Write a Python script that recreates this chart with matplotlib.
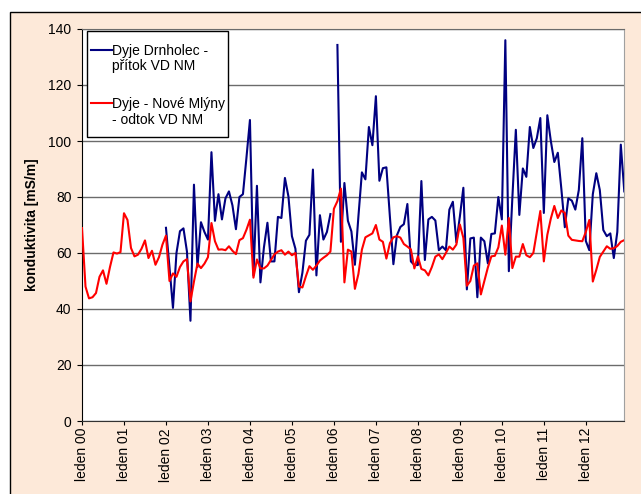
import numpy as np
import matplotlib
matplotlib.use("Agg")
import matplotlib.pyplot as plt
from matplotlib.patches import Rectangle
from matplotlib.lines import Line2D

plt.rcParams['font.family'] = ['Liberation Sans', 'DejaVu Sans']

# Monthly conductivity, January 2000 - December 2012 (index 0 = leden 00)
months = np.arange(156)

nove_mlyny = [
    68.9, 48.0, 43.8, 44.2, 45.7, 51.5, 53.8, 49.0, 55.0, 60.2, 59.8, 60.3,
    74.2, 71.8, 61.8, 58.8, 59.4, 61.5, 64.5, 58.2, 60.8, 55.8, 58.5, 63.0,
    66.2, 50.0, 52.7, 51.5, 55.0, 57.0, 57.8, 42.7, 49.8, 56.2, 54.6, 56.2,
    58.5, 70.7, 64.2, 61.2, 61.3, 61.0, 62.4, 60.8, 59.6, 64.6, 65.3, 68.3,
    71.9, 51.2, 57.7, 54.5, 54.5, 55.5, 57.5, 59.5, 60.5, 61.0, 59.4, 60.5,
    59.2, 60.0, 48.0, 47.7, 51.7, 55.3, 54.0, 55.5, 57.3, 58.3, 59.2, 60.5,
    75.8, 78.5, 83.0, 49.5, 61.2, 60.5, 47.2, 52.5, 61.2, 65.6, 66.3, 67.0,
    70.0, 64.8, 64.0, 58.0, 63.5, 65.6, 66.0, 65.5, 63.2, 62.3, 61.3, 54.5,
    58.8, 54.3, 53.8, 52.0, 55.0, 58.7, 59.5, 57.8, 60.0, 62.3, 61.2, 63.0,
    70.2, 65.4, 48.3, 50.0, 55.5, 56.3, 45.2, 50.0, 54.8, 58.8, 59.0, 62.0,
    69.8, 59.4, 72.5, 54.6, 58.7, 58.7, 63.2, 59.2, 58.5, 60.0, 67.4, 75.0,
    57.0, 66.5, 72.3, 76.8, 72.5, 75.2, 74.3, 66.2, 64.7, 64.5, 64.3, 64.2,
    67.5, 71.8, 49.8, 54.0, 58.6, 60.5, 62.4, 61.5, 61.7, 62.5, 64.0, 64.6,
]

# Drnholec starts in January 2002; January 2006 has no measurement
drnholec = [np.nan] * 24 + [
    69.0, 55.0, 40.4, 60.0, 67.8, 68.8, 60.5, 35.8, 84.4, 55.0, 71.0, 67.5,
    64.8, 96.0, 71.5, 81.0, 72.0, 79.5, 82.0, 77.0, 68.5, 80.0, 81.0, 94.0,
    107.5, 52.0, 84.0, 49.5, 62.0, 70.8, 57.0, 57.0, 72.9, 72.5, 86.8, 80.2,
    66.0, 61.5, 46.0, 53.0, 64.4, 66.5, 89.8, 52.0, 73.5, 64.8, 67.5, 73.9,
    np.nan, 134.3, 64.0, 85.0, 71.5, 67.7, 55.8, 73.0, 88.8, 86.3, 105.0, 98.5,
    116.0, 85.8, 90.3, 90.6, 73.0, 56.0, 66.3, 69.3, 70.3, 77.5, 57.0, 55.7,
    55.7, 85.7, 57.5, 72.0, 72.9, 71.6, 61.0, 62.3, 61.0, 75.5, 78.3, 63.8,
    73.0, 83.3, 47.0, 65.2, 65.5, 44.2, 65.5, 64.2, 56.3, 66.8, 67.0, 80.0,
    72.0, 136.0, 53.5, 79.6, 104.0, 73.6, 90.2, 87.2, 105.0, 97.5, 101.0, 108.2,
    74.3, 109.2, 100.0, 92.5, 95.8, 83.0, 69.2, 79.5, 78.7, 75.5, 82.5, 101.0,
    64.3, 61.0, 81.0, 88.5, 82.5, 68.2, 66.0, 67.0, 58.2, 67.5, 98.7, 82.0,
]

year_ticks = np.arange(0, 156, 12)
year_labels = ["leden %02d" % y for y in range(13)]

label_drnholec = ["Dyje Drnholec -", "přítok VD NM"]
label_mlyny = ["Dyje - Nové Mlýny", "- odtok VD NM"]

W, H = 641, 494
fig = plt.figure(figsize=(W / 100, H / 100), dpi=100)
fig.patch.set_facecolor("white")

# cream chart area with black frame on the left and top
bg = Rectangle((9.5 / W, -0.05), 1.2, (H - 11.5) / H + 0.05,
               transform=fig.transFigure, facecolor="#FDE9D9",
               edgecolor="black", linewidth=1.0, zorder=-10)
fig.patches.append(bg)

AX_L, AX_R, AX_T, AX_B = 82.0, 624.3, 29.0, 421.0
ax = fig.add_axes([AX_L / W, (H - AX_B) / H, (AX_R - AX_L) / W, (AX_B - AX_T) / H])
ax.set_zorder(1)
ax.set_facecolor("white")

blue, red = "#000080", "#FF0000"
ax.plot(months, drnholec, color=blue, lw=1.5, zorder=3)
ax.plot(months, nove_mlyny, color=red, lw=1.5, zorder=3)

ax.set_xlim(0, 155)
ax.set_ylim(0, 140)
ax.set_yticks(np.arange(0, 141, 20))
ax.set_xticks(year_ticks)
ax.set_xticklabels(year_labels, rotation=90, fontsize=10)
ax.tick_params(axis="y", labelsize=10, length=3.5, width=0.8, pad=4)
ax.tick_params(axis="x", length=3, width=0.8, pad=2)

grid_col = "#6b6b6b"
ax.grid(axis="y", color=grid_col, lw=1.0, zorder=1)
ax.set_axisbelow(True)

ax.spines["top"].set_color(grid_col)
ax.spines["right"].set_color("#a0a0a0")
ax.spines["left"].set_color("black")
ax.spines["bottom"].set_color("#333333")

ax.set_ylabel("konduktivita [mS/m]", fontsize=10, fontweight="bold", labelpad=7)


# legend box drawn in pixel positions relative to the axes
def ax_xy(px, py):
    return ((px - AX_L) / (AX_R - AX_L), (AX_B - py) / (AX_B - AX_T))


x0, y0 = ax_xy(87.3, 137.3)
x1, y1 = ax_xy(228.3, 30.7)
ax.add_patch(Rectangle((x0, y0), x1 - x0, y1 - y0, transform=ax.transAxes,
                       facecolor="white", edgecolor="black", lw=1.0,
                       zorder=5, clip_on=False))

for color, lines, hy, baselines in ((blue, label_drnholec, 50.0, (55.0, 70.0)),
                                     (red, label_mlyny, 103.3, (108.3, 124.0))):
    hx0, hyy = ax_xy(91.0, hy)
    hx1, _ = ax_xy(111.5, hy)
    ax.add_line(Line2D([hx0, hx1], [hyy, hyy], transform=ax.transAxes,
                       color=color, lw=1.5, zorder=6, clip_on=False))
    for text, by in zip(lines, baselines):
        tx, ty = ax_xy(112.0, by)
        ax.text(tx, ty, text, transform=ax.transAxes, fontsize=10,
                ha="left", va="baseline", zorder=6)

fig.savefig("out.png", dpi=100, facecolor=fig.get_facecolor())
